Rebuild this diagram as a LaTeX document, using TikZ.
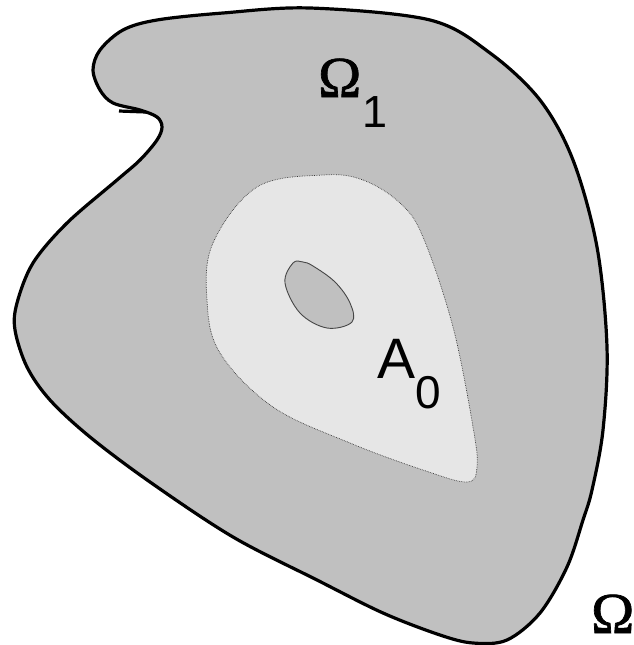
\documentclass[tikz,border=0pt]{standalone}
\usepackage{fontspec}
\setmainfont{Liberation Serif}
\newfontfamily\sansf{Liberation Sans}
\newfontfamily\omf[FakeBold=1.2]{Liberation Serif}
\definecolor{outerfill}{RGB}{192,192,192}
\definecolor{innerfill}{RGB}{230,230,230}
\definecolor{holeline}{RGB}{70,70,70}
\begin{document}
\begin{tikzpicture}[x=1pt,y=-1pt,
  outerline/.style={line width=3.2pt,black,fill=outerfill,line join=round},
  innerline/.style={line width=0.7pt,densely dotted,holeline!80!black,fill=innerfill},
  holestyle/.style={line width=0.9pt,holeline,fill=outerfill},
  lbl/.style={inner sep=0pt,anchor=base west}]
\useasboundingbox (0,0) rectangle (634,645);
\draw[outerline] plot[smooth cycle,tension=0.55] coordinates {
 (123,30) (157,20) (223,13) (310,8) (430,20) (490,53) (540,100) (573,160)
 (597,247) (607,347) (603,430) (592,490) (583,520) (567,567) (540,613)
 (507,640) (473,643) (440,635) (383,613) (317,580) (233,537) (150,482)
 (90,437) (50,400) (27,367) (15,330) (17,303) (33,263) (67,223) (117,180)
 (140,160) (157,140) (162,127) (157,117) (140,110) (113,103) (100,90)
 (93,70) (100,50)};
\coordinate (tailA) at (119,111);
\coordinate (tailB) at (146,112);
\draw[line width=3.2pt,line cap=butt] (tailA) -- (tailB);
\draw[innerline] plot[smooth cycle,tension=0.6] coordinates {
 (323,175) (363,180) (400,203) (423,237) (453,327) (473,427) (477,467)
 (467,482) (423,470) (350,443) (273,407) (220,353) (207,300) (213,243)
 (257,187)};
\draw[holestyle] plot[smooth cycle,tension=0.6] coordinates {
 (293,263) (303,262) (313,266) (335,282) (350,303) (352,322) (327,328)
 (300,313) (285,283)};
\node[lbl,font=\omf\fontsize{58}{58}\selectfont] (om1) at (318,97) {Ω};
\node[lbl,font=\sansf\fontsize{45}{45}\selectfont] (sub1) at (362,127) {1};
\node[lbl,font=\sansf\fontsize{57}{57}\selectfont] (a0) at (377,378) {A};
\node[lbl,font=\sansf\fontsize{46}{46}\selectfont] (sub0) at (415,408) {0};
\node[lbl,font=\omf\fontsize{58}{58}\selectfont] (om) at (591,633) {Ω};
\end{tikzpicture}
\end{document}
